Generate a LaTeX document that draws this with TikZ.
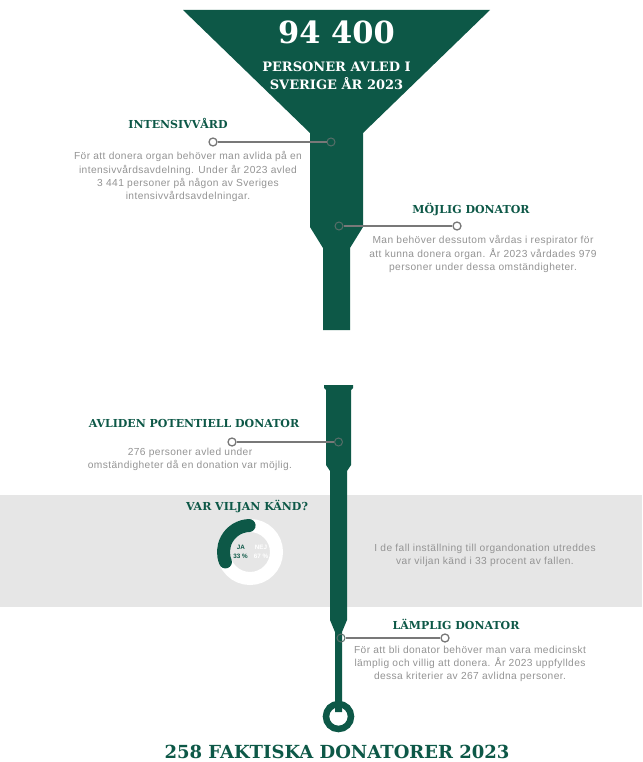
\documentclass[tikz,border=0pt]{standalone}
\usepackage{fontspec}
\setmainfont{DejaVu Serif}
\newfontfamily\bodyfont[LetterSpace=4]{Liberation Sans}
\newfontfamily\pienumfont{Liberation Sans}
\definecolor{forest}{RGB}{13,88,71}
\definecolor{bodygray}{RGB}{148,148,148}
\definecolor{linegray}{RGB}{120,120,120}
\definecolor{band}{RGB}{230,230,230}
\begin{document}
\begin{tikzpicture}[x=1pt,y=-1pt,
  heading/.style={text=forest, font=\fontsize{11}{13}\selectfont\bfseries, inner sep=0, anchor=base},
  bodytext/.style={text=bodygray, font=\bodyfont\fontsize{10.2}{13.2}\selectfont, align=center, inner sep=0, anchor=north},
  leader/.style={draw=linegray, line width=1.3},
  endpoint/.style={circle, draw=linegray, fill=white, line width=1.3, minimum size=8, inner sep=0},
  tubepoint/.style={circle, draw=linegray!70!forest, line width=1, minimum size=8, inner sep=0},
  pielabel/.style={font=\pienumfont\bfseries\fontsize{6.3}{7}\selectfont, inner sep=0},
]
\useasboundingbox[fill=white] (0,0) rectangle (642,762);
% grey band behind the consent question
\fill[band] (0,495) rectangle (642,607);

% upper funnel
\fill[forest] (183,10) -- (490,10) -- (363,133) -- (363,227) -- (350,248) -- (350,330)
  -- (323,330) -- (323,248) -- (310,227) -- (310,133) -- cycle;
% lower pipe
\fill[forest] (324,385) -- (353,385) -- (353,388) -- (351,390) -- (351,465) -- (347,471)
  -- (347,620) -- (342,632) -- (342,712) -- (335,712) -- (335,632) -- (330,620)
  -- (330,471) -- (326,465) -- (326,390) -- (324,388) -- cycle;
\node[circle, draw=forest, line width=6.5, minimum size=25, inner sep=0] (ring) at (338.5,716.5) {};

% funnel headline
\node[text=white, font=\fontsize{30.5}{32}\selectfont\bfseries, inner sep=0, anchor=base] (total) at (336.5,43.5) {94 400};
\node[text=white, font=\fontsize{13}{18}\selectfont\bfseries, inner sep=0, anchor=base] (sub1) at (336.5,71.7) {PERSONER AVLED I};
\node[text=white, font=\fontsize{13}{18}\selectfont\bfseries, inner sep=0, anchor=base] (sub2) at (336.5,89.7) {SVERIGE ÅR 2023};

% intensive care
\node[heading] (ivh) at (178,129) {INTENSIVVÅRD};
\node[endpoint] (ivend) at (213,142) {};
\node[tubepoint] (ivtube) at (331,142) {};
\draw[leader] (ivend) -- (ivtube);
\node[bodytext] (ivtxt) at (188,151.5) {För att donera organ behöver man avlida på en\\intensivvårdsavdelning. Under år 2023 avled\\3 441 personer på någon av Sveriges\\intensivvårdsavdelningar.};

% possible donor
\node[heading] (mdh) at (471,213) {MÖJLIG DONATOR};
\node[tubepoint] (mdtube) at (339,226) {};
\node[endpoint] (mdend) at (457,226) {};
\draw[leader] (mdtube) -- (mdend);
\node[bodytext] (mdtxt) at (483,235.5) {Man behöver dessutom vårdas i respirator för\\att kunna donera organ. År 2023 vårdades 979\\personer under dessa omständigheter.};

% deceased potential donor
\node[heading] (apdh) at (194,427) {AVLIDEN POTENTIELL DONATOR};
\node[endpoint] (apdend) at (232,442) {};
\node[tubepoint] (apdtube) at (338.5,442) {};
\draw[leader] (apdend) -- (apdtube);
\node[bodytext] (apdtxt) at (190,447.5) {276 personer avled under\\omständigheter då en donation var möjlig.};

% known wish
\node[heading] (vvh) at (247,510) {VAR VILJAN KÄND?};
\draw[white, line width=13] (250,552) circle (26.5);
\draw[forest, line width=13, line cap=round] (250,552) ++(268:26.5) arc[start angle=268, end angle=158, radius=26.5];
\node[pielabel, text=forest] (ja) at (241,547) {JA};
\node[pielabel, text=forest] (japct) at (240.5,556.5) {33 \%};
\node[pielabel, text=white] (nej) at (261,547) {NEJ};
\node[pielabel, text=white] (nejpct) at (261,556.5) {67 \%};
\node[bodytext] (vvtxt) at (485,543.5) {I de fall inställning till organdonation utreddes\\var viljan känd i 33 procent av fallen.};

% suitable donor
\node[heading] (ldh) at (456,629) {LÄMPLIG DONATOR};
\node[tubepoint] (ldtube) at (341,638) {};
\node[endpoint] (ldend) at (445,638) {};
\draw[leader] (ldtube) -- (ldend);
\node[bodytext] (ldtxt) at (470,645.5) {För att bli donator behöver man vara medicinskt\\lämplig och villig att donera. År 2023 uppfylldes\\dessa kriterier av 267 avlidna personer.};

% outcome
\node[text=forest, font=\fontsize{18}{20}\selectfont\bfseries, inner sep=0, anchor=base] (result) at (337,758.5) {258 FAKTISKA DONATORER 2023};
\end{tikzpicture}
\end{document}
